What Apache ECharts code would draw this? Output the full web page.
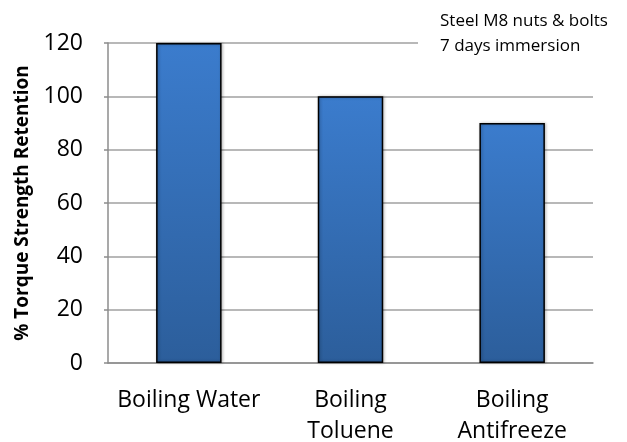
<!DOCTYPE html>
<html>
<head>
<meta charset="utf-8">
<script src="https://cdn.jsdelivr.net/npm/echarts@6/dist/echarts.min.js"></script>
<style>
html,body{margin:0;padding:0;background:#fff;}
#chart{width:627px;height:442px;}
</style>
</head>
<body>
<div id="chart"></div>
<script>
const categories = ["Boiling Water", "Boiling\nToluene", "Boiling\nAntifreeze"];
const retentionValues = [120, 100, 90];
const yTicks = [0, 20, 40, 60, 80, 100, 120];
const noteLines = ["Steel M8 nuts & bolts", "7 days immersion"];
const titleText = "Chemical Resistance";

const chart = echarts.init(document.getElementById('chart'), null, {renderer: 'canvas'});
const font = '"Open Sans", sans-serif';
chart.setOption({
  animation: false,
  backgroundColor: '#ffffff',
  grid: {left: 108, right: 34, top: 43, bottom: 79, containLabel: false, outerBoundsMode: 'none'},
  xAxis: {
    type: 'category',
    data: categories,
    axisLine: {show: true, lineStyle: {color: '#8c8c8c', width: 1.5}},
    axisTick: {show: false},
    axisLabel: {color: '#000', fontFamily: font, fontSize: 23, margin: 22, lineHeight: 31, interval: 0}
  },
  yAxis: {
    type: 'value',
    min: yTicks[0],
    max: yTicks[yTicks.length - 1],
    interval: yTicks[1] - yTicks[0],
    name: '% Torque Strength Retention',
    nameLocation: 'middle',
    nameGap: 76,
    nameRotate: 90,
    nameTextStyle: {color: '#000', fontFamily: font, fontSize: 19, fontWeight: 'bold'},
    axisLine: {show: true, lineStyle: {color: '#8c8c8c', width: 1.5}},
    axisTick: {show: true, length: 4, inside: false, lineStyle: {color: '#8c8c8c', width: 1.5}},
    splitLine: {show: true, lineStyle: {color: '#a0a0a0', width: 1.5}},
    axisLabel: {color: '#000', fontFamily: font, fontSize: 23, margin: 25}
  },
  series: [{
    type: 'bar',
    data: retentionValues,
    barWidth: '40.5%',
    itemStyle: {
      color: new echarts.graphic.LinearGradient(0, 0, 0, 1, [
        {offset: 0, color: '#3b7ccd'},
        {offset: 1, color: '#2c5e9b'}
      ]),
      borderColor: '#000',
      borderWidth: 1.5,
      shadowColor: 'rgba(0,0,0,0.3)',
      shadowBlur: 3,
      shadowOffsetX: 1
    }
  }],
  graphic: [
    {type: 'rect', left: 418, top: 8, shape: {width: 209, height: 55}, style: {fill: '#fff'}, z: 100},
    {type: 'text', left: 440, top: 9, style: {text: noteLines.join('\n'), font: '17px "Open Sans", sans-serif', fill: '#000', lineHeight: 25}, z: 101},
    {type: 'text', left: 12, top: -28.5, style: {text: titleText, font: 'bold 36px "Open Sans", sans-serif', fill: '#000'}, z: 101}
  ]
});
</script>
</body>
</html>
